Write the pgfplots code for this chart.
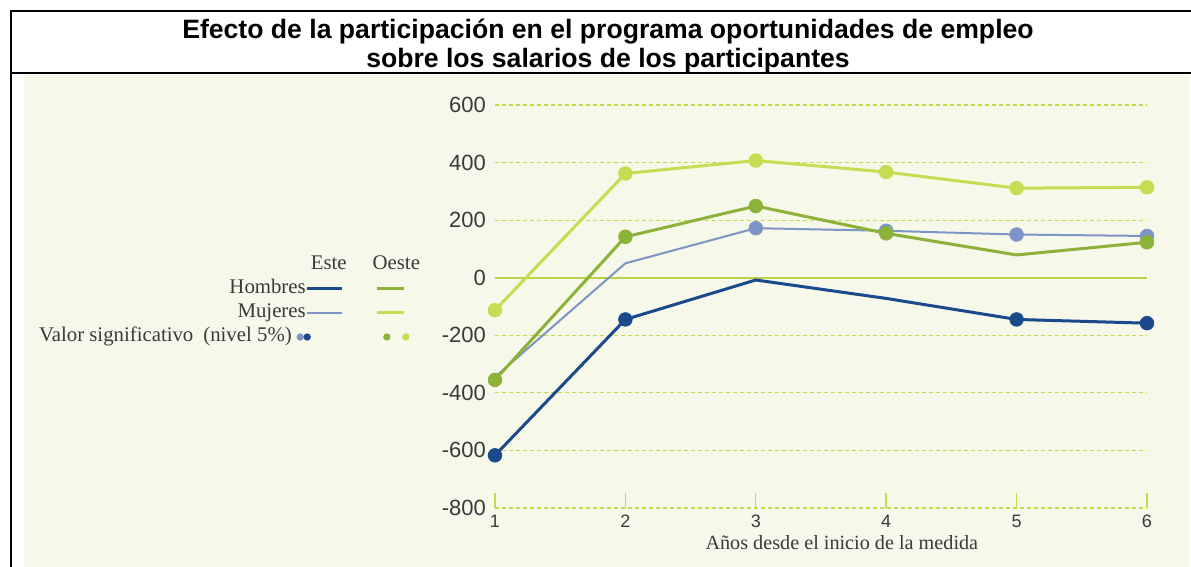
\documentclass[border=0pt]{standalone}
\usepackage{fontspec}
\setmainfont{Liberation Serif}
\newfontfamily\sansf{Liberation Sans}
\usepackage{pgfplots}
\pgfplotsset{compat=1.18}
\definecolor{estH}{HTML}{1B4A8C}
\definecolor{estM}{HTML}{7F94C6}
\definecolor{oesH}{HTML}{8CB23A}
\definecolor{oesM}{HTML}{C6DC52}
\definecolor{gridc}{HTML}{C9D84E}
\definecolor{zeroc}{HTML}{BCD14A}
\definecolor{bgc}{HTML}{F6F8E9}
\definecolor{txt}{HTML}{3A3A3A}
\begin{document}
\begin{tikzpicture}
\begin{scope}[x=0.5pt,y=-0.5pt]
\useasboundingbox (0,0) rectangle (1191,567);
\fill[white] (0,0) rectangle (1191,567);
\fill[bgc] (24,75) rectangle (1189,567);
\draw[line width=1pt] (11,567) -- (11,11) -- (1191,11);
\draw[line width=1pt] (11,73) -- (1191,73);
\node[font=\sansf\bfseries\fontsize{13.3}{14.5}\selectfont, align=center, inner sep=0pt] at (608,46)
  {Efecto de la participación en el programa oportunidades de empleo\\sobre los salarios de los participantes};
\end{scope}
\begin{axis}[
  at={(247.5pt,-254pt)}, anchor=south west,
  width=326pt, height=201.5pt, scale only axis,
  xmin=1, xmax=6, ymin=-800, ymax=600, clip=false,
  axis line style={draw=none},
  xtick={1,2,3,4,5,6}, xticklabels={1,2,3,4,5,6},
  ytick={-800,-600,-400,-200,0,200,400,600},
  yticklabels={-800,-600,-400,-200,0,200,400,600},
  xtick pos=bottom, ytick pos=left,
  tick align=inside, major tick length=7.5pt,
  x tick style={color=gridc, line width=0.7pt},
  y tick style={draw=none},
  ymajorgrids,
  major grid style={color=gridc, line width=0.6pt, dash pattern=on 2.2pt off 1.3pt},
  x tick label style={font=\sansf\fontsize{9}{10}\selectfont, text=txt},
  y tick label style={font=\sansf\fontsize{11}{12}\selectfont, text=txt, xshift=-1pt},
  xlabel={Años desde el inicio de la medida},
  xlabel style={font=\fontsize{10.1}{11}\selectfont, text=txt, at={(axis description cs:0.532,-0.087)}, anchor=center},
  legend columns=2, legend plot pos=right, legend cell align=right,
  legend style={at={(axis description cs:-0.115,0.6278)}, anchor=north east, draw=none, fill=none,
    inner sep=0pt, outer sep=0pt, font=\fontsize{10.4}{11}\selectfont, text=txt,
    nodes={inner sep=0pt, text height=7pt, text depth=2pt},
    row sep=3pt,
    /tikz/column 1/.style={column sep=0pt},
    /tikz/column 2/.style={column sep=12pt},
    /tikz/column 3/.style={column sep=0pt}},
]
% legend
\addlegendimage{legend image code/.code={\node[anchor=base, inner sep=0pt, font=\fontsize{10.4}{11}\selectfont, text=txt] at (10.75pt,-3pt) {Este};}}
\addlegendentry{\mbox{}}
\addlegendimage{legend image code/.code={\node[anchor=base, inner sep=0pt, font=\fontsize{10.4}{11}\selectfont, text=txt] at (9.75pt,-3pt) {Oeste};}}
\addlegendentry{\mbox{}}
\addlegendimage{legend image code/.code={\draw[estH, line width=1.5pt] (0pt,0pt) -- (17.5pt,0pt);}}
\addlegendentry{Hombres}
\addlegendimage{legend image code/.code={\draw[oesH, line width=1.5pt] (0pt,0pt) -- (13.5pt,0pt);}}
\addlegendentry{\mbox{}}
\addlegendimage{legend image code/.code={\draw[estM, line width=1pt] (0pt,0pt) -- (17.5pt,0pt);}}
\addlegendentry{Mujeres}
\addlegendimage{legend image code/.code={\draw[oesM, line width=1.5pt] (0pt,0pt) -- (13.5pt,0pt);}}
\addlegendentry{\mbox{}}
\addlegendimage{legend image code/.code={\fill[estM,overlay] (-3.5pt,0pt) circle (1.6pt); \fill[estH,overlay] (0pt,0pt) circle (1.6pt);}}
\addlegendentry{Valor significativo\hspace{5pt}(nivel 5\%)\hspace*{7pt}}
\addlegendimage{legend image code/.code={\fill[oesH] (5pt,0pt) circle (1.6pt); \fill[oesM] (14.5pt,0pt) circle (1.6pt);}}
\addlegendentry{\mbox{}}
% zero line
\addplot[forget plot, color=zeroc, line width=0.8pt] coordinates {(1,0) (6,0)};
% Este Mujeres
\addplot[forget plot, color=estM, line width=1pt] coordinates {(1,-345) (2,50) (3,172) (4,163) (5,150) (6,145)};
\addplot[forget plot, only marks, mark=*, mark size=3.4pt, color=estM] coordinates {(3,172) (4,163) (5,150) (6,145)};
% Este Hombres
\addplot[forget plot, color=estH, line width=1.5pt] coordinates {(1,-617) (2,-145) (3,-8) (4,-72) (5,-145) (6,-158)};
\addplot[forget plot, only marks, mark=*, mark size=3.4pt, color=estH] coordinates {(1,-617) (2,-145) (5,-145) (6,-158)};
% Oeste Hombres
\addplot[forget plot, color=oesH, line width=1.5pt] coordinates {(1,-355) (2,142) (3,249) (4,154) (5,79) (6,123)};
\addplot[forget plot, only marks, mark=*, mark size=3.4pt, color=oesH] coordinates {(1,-355) (2,142) (3,249) (4,154) (6,123)};
% Oeste Mujeres
\addplot[forget plot, color=oesM, line width=1.5pt] coordinates {(1,-113) (2,362) (3,407) (4,367) (5,311) (6,314)};
\addplot[forget plot, only marks, mark=*, mark size=3.4pt, color=oesM] coordinates {(1,-113) (2,362) (3,407) (4,367) (5,311) (6,314)};
\end{axis}
\end{tikzpicture}
\end{document}
